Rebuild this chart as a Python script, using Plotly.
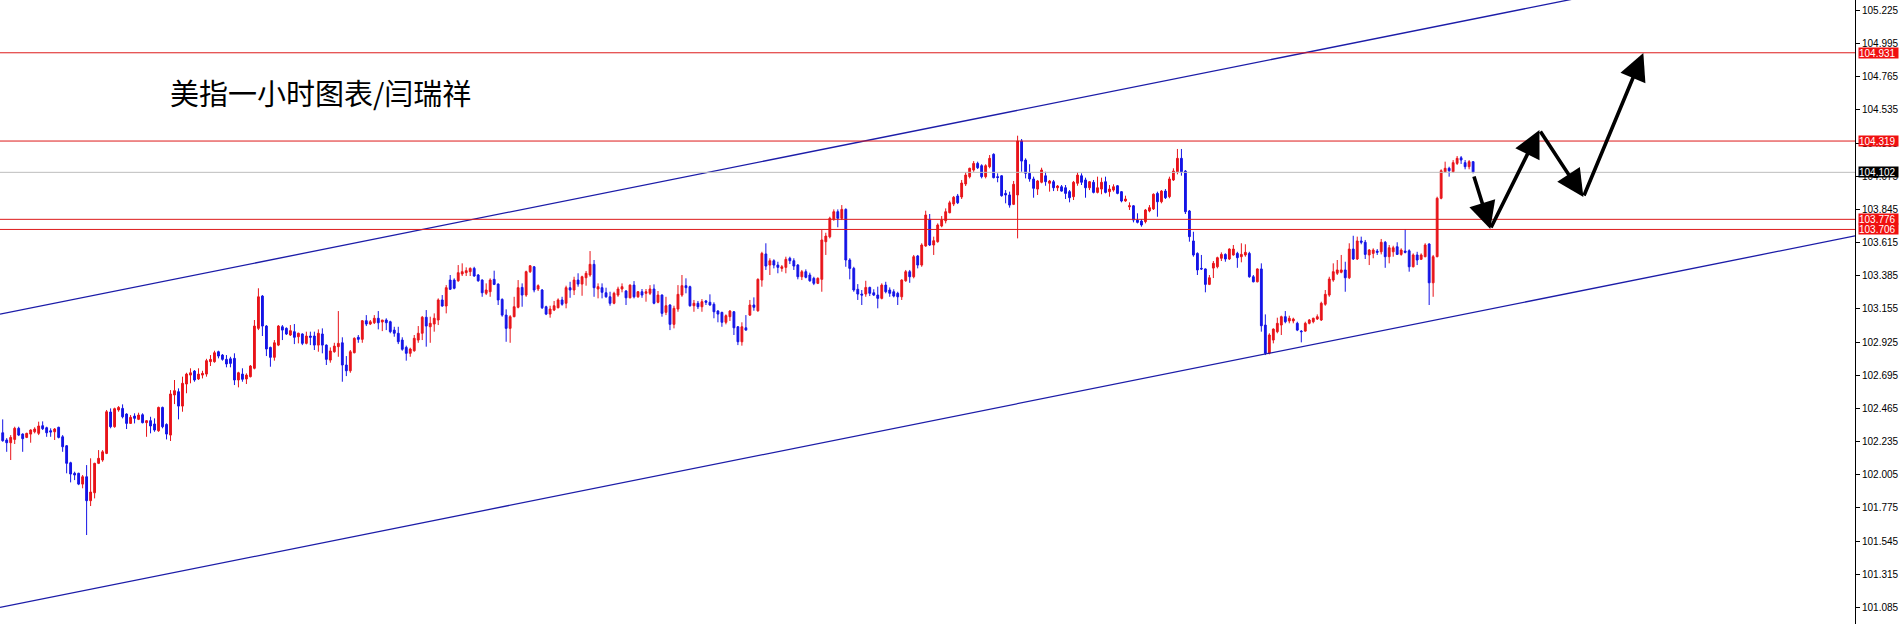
import plotly.graph_objects as go

# ---------------- data (USD index, 1h candles) ----------------
opens = [
102.296,102.246,102.227,102.250,102.327,102.287,102.264,102.287,102.303,102.292,
102.345,102.331,102.310,102.303,102.334,102.268,102.206,102.088,102.015,102.015,
101.940,101.991,101.825,101.880,102.084,102.107,102.153,102.440,102.338,102.454,
102.465,102.426,102.361,102.412,102.389,102.421,102.366,102.380,102.357,102.310,
102.472,102.354,102.280,102.558,102.581,102.481,102.634,102.696,102.724,102.669,
102.696,102.703,102.789,102.789,102.858,102.835,102.805,102.809,102.812,102.662,
102.703,102.669,102.685,102.743,103.020,103.244,103.036,102.888,102.819,102.904,
103.031,103.020,102.974,102.997,102.962,102.981,102.916,102.967,102.967,102.904,
102.981,102.904,102.800,102.858,102.893,102.920,102.766,102.726,102.851,102.958,
102.944,103.073,103.050,103.059,103.090,103.064,103.078,103.066,103.008,102.986,
102.939,102.888,102.847,102.865,102.939,102.986,103.097,103.031,103.050,103.078,
103.217,103.175,103.355,103.355,103.350,103.397,103.406,103.413,103.436,103.390,
103.355,103.263,103.274,103.360,103.327,103.221,103.112,103.020,103.101,103.166,
103.304,103.251,103.413,103.447,103.293,103.286,103.170,103.119,103.147,103.163,
103.217,103.194,103.302,103.286,103.355,103.327,103.371,103.390,103.464,103.293,
103.302,103.267,103.239,103.194,103.251,103.293,103.279,103.232,103.320,103.239,
103.274,103.263,103.263,103.293,103.201,103.251,103.131,103.182,103.048,103.154,
103.251,103.316,103.309,103.177,103.194,103.170,103.210,103.201,103.187,103.140,
103.131,103.062,103.101,103.135,103.031,102.927,103.024,103.112,103.182,103.142,
103.355,103.536,103.459,103.489,103.459,103.436,103.443,103.506,103.489,103.459,
103.378,103.413,103.390,103.367,103.332,103.360,103.621,103.655,103.776,103.829,
103.783,103.845,103.494,103.436,103.291,103.258,103.258,103.304,103.267,103.251,
103.228,103.320,103.286,103.274,103.263,103.239,103.350,103.413,103.378,103.522,
103.459,103.591,103.776,103.598,103.621,103.730,103.766,103.822,103.882,103.938,
103.931,104.021,104.072,104.118,104.164,104.148,104.072,104.141,104.227,104.072,
104.078,103.956,103.945,103.880,103.945,104.319,104.187,104.095,104.056,103.986,
104.033,104.078,104.026,104.037,103.995,104.002,103.995,103.968,103.933,104.026,
104.078,104.049,103.995,104.033,103.963,103.986,104.037,103.968,103.979,104.009,
103.968,103.903,103.863,103.870,103.771,103.764,103.760,103.834,103.848,103.956,
103.898,103.972,103.933,104.049,104.106,104.199,104.111,103.834,103.626,103.540,
103.436,103.432,103.325,103.438,103.447,103.506,103.533,103.501,103.529,103.540,
103.517,103.529,103.540,103.378,103.343,103.432,103.043,102.847,102.939,102.997,
103.043,103.101,103.071,103.071,103.055,103.001,103.001,103.055,103.066,103.085,
103.078,103.187,103.251,103.355,103.402,103.409,103.425,103.371,103.570,103.501,
103.626,103.617,103.529,103.540,103.556,103.551,103.617,103.517,103.551,103.586,
103.533,103.556,103.558,103.447,103.529,103.499,103.517,103.605,103.336,103.517,
103.922,104.106,104.130,104.106,104.164,104.203,104.169,104.141,104.176,
]

highs = [
102.389,102.259,102.280,102.338,102.338,102.292,102.296,102.320,102.334,102.373,
102.375,102.338,102.327,102.329,102.338,102.280,102.211,102.095,102.026,102.019,
102.003,102.072,102.119,102.088,102.176,102.176,102.454,102.465,102.470,102.481,
102.493,102.431,102.419,102.431,102.435,102.431,102.384,102.407,102.396,102.477,
102.477,102.361,102.592,102.662,102.604,102.685,102.712,102.743,102.731,102.743,
102.726,102.809,102.835,102.865,102.865,102.842,102.835,102.823,102.847,102.719,
102.743,102.708,102.766,103.078,103.298,103.251,103.043,102.893,102.939,103.043,
103.043,103.027,103.043,103.050,102.990,102.986,102.997,102.997,102.997,103.013,
103.020,102.909,102.888,102.920,103.140,102.958,102.828,102.870,102.958,102.974,
103.078,103.112,103.078,103.112,103.140,103.078,103.090,103.073,103.031,103.031,
102.958,102.900,102.886,102.974,103.036,103.106,103.147,103.101,103.124,103.228,
103.251,103.320,103.390,103.367,103.459,103.471,103.443,103.443,103.447,103.397,
103.360,103.332,103.367,103.420,103.332,103.228,103.152,103.112,103.239,103.355,
103.332,103.420,103.459,103.452,103.325,103.293,103.177,103.177,103.210,103.228,
103.239,103.316,103.343,103.378,103.402,103.385,103.418,103.556,103.494,103.332,
103.332,103.302,103.274,103.274,103.309,103.332,103.286,103.325,103.348,103.279,
103.293,103.293,103.320,103.325,103.279,103.256,103.239,103.187,103.177,103.320,
103.390,103.367,103.316,103.217,103.210,103.223,103.217,103.256,103.201,103.147,
103.135,103.117,103.147,103.140,103.036,103.062,103.112,103.217,103.235,103.367,
103.551,103.610,103.506,103.499,103.482,103.459,103.517,103.517,103.506,103.466,
103.425,103.429,103.406,103.378,103.374,103.702,103.683,103.794,103.845,103.845,
103.875,103.852,103.506,103.447,103.327,103.286,103.350,103.309,103.291,103.309,
103.332,103.343,103.304,103.291,103.274,103.360,103.425,103.425,103.529,103.529,
103.610,103.836,103.813,103.656,103.748,103.799,103.852,103.905,103.938,103.952,
104.049,104.104,104.134,104.180,104.176,104.158,104.158,104.222,104.234,104.095,
104.083,103.979,103.968,104.042,104.356,104.333,104.199,104.158,104.072,104.049,
104.134,104.106,104.049,104.049,104.014,104.014,104.014,103.979,104.042,104.102,
104.095,104.065,104.042,104.049,104.072,104.065,104.072,104.014,104.019,104.014,
103.972,103.940,103.894,103.875,103.818,103.778,103.848,103.875,103.956,103.968,
103.979,103.986,104.072,104.130,104.264,104.264,104.118,103.841,103.690,103.547,
103.529,103.436,103.390,103.487,103.517,103.547,103.540,103.575,103.598,103.551,
103.610,103.603,103.551,103.390,103.436,103.471,103.117,102.986,103.020,103.094,
103.108,103.140,103.108,103.094,103.066,103.008,103.066,103.085,103.094,103.117,
103.205,103.286,103.378,103.471,103.494,103.529,103.482,103.610,103.662,103.656,
103.656,103.633,103.570,103.575,103.570,103.640,103.626,103.598,103.593,103.617,
103.575,103.709,103.568,103.540,103.551,103.540,103.610,103.610,103.529,103.933,
104.123,104.176,104.141,104.187,104.215,104.215,104.187,104.187,104.176,
]

lows = [
102.234,102.164,102.107,102.218,102.273,102.164,102.259,102.227,102.292,102.280,
102.315,102.268,102.268,102.246,102.257,102.164,102.015,101.952,101.968,101.933,
101.911,101.587,101.788,101.841,102.079,102.095,102.148,102.327,102.331,102.442,
102.396,102.322,102.357,102.361,102.384,102.361,102.268,102.292,102.303,102.303,
102.327,102.250,102.239,102.495,102.389,102.442,102.570,102.639,102.650,102.662,
102.673,102.685,102.759,102.782,102.812,102.796,102.750,102.750,102.627,102.611,
102.650,102.634,102.680,102.736,103.008,102.967,102.828,102.754,102.796,102.897,
102.939,102.974,102.967,102.911,102.916,102.904,102.909,102.904,102.870,102.858,
102.847,102.766,102.782,102.851,102.823,102.650,102.689,102.712,102.847,102.920,
102.920,103.036,103.043,103.050,103.013,103.001,103.008,102.986,102.962,102.911,
102.865,102.796,102.823,102.858,102.920,102.939,102.893,102.920,102.997,103.043,
103.170,103.124,103.286,103.291,103.343,103.383,103.383,103.383,103.378,103.343,
103.239,103.251,103.239,103.320,103.182,103.101,102.927,102.920,103.097,103.159,
103.170,103.239,103.404,103.270,103.279,103.154,103.112,103.094,103.140,103.159,
103.177,103.159,103.232,103.251,103.309,103.246,103.316,103.378,103.239,103.228,
103.228,103.232,103.177,103.187,103.239,103.270,103.182,103.228,103.228,103.232,
103.232,103.205,103.251,103.187,103.194,103.101,103.112,103.008,103.020,103.135,
103.239,103.263,103.170,103.135,103.154,103.135,103.182,103.177,103.090,103.062,
103.031,103.048,103.071,102.974,102.904,102.900,103.004,103.106,103.142,103.135,
103.309,103.425,103.390,103.436,103.402,103.413,103.402,103.466,103.425,103.360,
103.355,103.367,103.343,103.320,103.327,103.274,103.529,103.644,103.766,103.721,
103.771,103.447,103.360,103.274,103.217,103.182,103.239,103.244,103.244,103.159,
103.221,103.263,103.239,103.235,103.182,103.217,103.343,103.336,103.367,103.436,
103.447,103.586,103.591,103.529,103.614,103.721,103.748,103.818,103.868,103.882,
103.917,104.007,104.060,104.106,104.125,104.060,104.060,104.130,104.060,104.033,
103.933,103.887,103.857,103.875,103.644,104.106,104.060,104.037,103.926,103.945,
104.026,104.009,103.968,103.972,103.972,103.968,103.917,103.894,103.910,104.009,
104.014,103.926,103.979,103.956,103.956,103.950,103.956,103.933,103.968,103.950,
103.894,103.898,103.841,103.755,103.748,103.725,103.748,103.825,103.841,103.794,
103.887,103.917,103.922,104.042,104.088,104.079,103.813,103.621,103.517,103.390,
103.425,103.270,103.320,103.369,103.436,103.487,103.482,103.494,103.524,103.440,
103.478,103.517,103.371,103.339,103.339,102.997,102.835,102.840,102.916,102.986,
102.974,103.055,103.055,103.055,103.001,102.923,102.997,103.048,103.055,103.078,
103.071,103.177,103.239,103.343,103.390,103.402,103.274,103.362,103.494,103.494,
103.603,103.501,103.459,103.506,103.529,103.533,103.440,103.471,103.517,103.529,
103.524,103.540,103.413,103.443,103.459,103.494,103.513,103.182,103.239,103.513,
103.915,104.099,104.072,104.099,104.153,104.160,104.123,104.123,104.095,
]

closes = [
102.241,102.227,102.264,102.327,102.280,102.255,102.292,102.315,102.322,102.343,
102.324,102.296,102.301,102.322,102.264,102.199,102.084,102.010,102.003,101.940,
101.991,101.825,101.885,102.084,102.119,102.164,102.442,102.338,102.463,102.472,
102.407,102.361,102.403,102.396,102.419,102.366,102.380,102.343,102.315,102.472,
102.338,102.287,102.565,102.588,102.481,102.639,102.703,102.712,102.662,102.703,
102.708,102.796,102.805,102.851,102.828,102.805,102.773,102.777,102.662,102.712,
102.667,102.696,102.759,103.036,103.239,103.036,102.877,102.819,102.920,103.036,
103.008,102.981,103.004,102.958,102.986,102.916,102.967,102.958,102.904,102.986,
102.904,102.805,102.863,102.897,102.916,102.766,102.726,102.858,102.951,102.944,
103.073,103.050,103.066,103.090,103.059,103.078,103.059,102.997,102.986,102.927,
102.875,102.847,102.877,102.951,102.986,103.097,103.036,103.055,103.090,103.217,
103.175,103.302,103.291,103.298,103.406,103.413,103.420,103.436,103.383,103.350,
103.267,103.286,103.355,103.325,103.217,103.112,103.020,103.101,103.170,103.302,
103.251,103.413,103.454,103.286,103.316,103.163,103.119,103.154,103.177,103.217,
103.187,103.302,103.286,103.355,103.327,103.378,103.402,103.464,103.302,103.309,
103.270,103.239,103.194,103.263,103.293,103.309,103.232,103.320,103.239,103.274,
103.251,103.274,103.293,103.194,103.251,103.124,103.177,103.048,103.159,103.256,
103.316,103.302,103.177,103.194,103.170,103.205,103.201,103.182,103.135,103.119,
103.062,103.108,103.140,103.024,102.927,103.031,103.008,103.182,103.166,103.360,
103.540,103.452,103.489,103.459,103.443,103.447,103.499,103.489,103.452,103.378,
103.413,103.374,103.350,103.332,103.367,103.633,103.660,103.783,103.829,103.783,
103.845,103.494,103.436,103.286,103.258,103.251,103.304,103.263,103.251,103.228,
103.320,103.274,103.263,103.244,103.239,103.355,103.413,103.378,103.517,103.459,
103.598,103.806,103.598,103.628,103.737,103.771,103.829,103.891,103.929,103.891,
104.028,104.083,104.130,104.164,104.134,104.072,104.148,104.199,104.065,104.066,
103.940,103.945,103.875,104.019,104.319,104.180,104.095,104.056,103.991,104.042,
104.118,104.037,104.042,103.995,104.007,103.972,103.956,103.926,104.033,104.083,
104.033,103.995,104.037,103.963,103.995,104.033,103.963,103.986,104.002,103.956,
103.903,103.917,103.870,103.771,103.755,103.737,103.841,103.857,103.950,103.898,
103.972,103.926,104.056,104.111,104.199,104.106,103.829,103.656,103.529,103.425,
103.432,103.325,103.371,103.471,103.510,103.533,103.501,103.570,103.570,103.510,
103.533,103.547,103.378,103.343,103.432,103.038,102.847,102.974,103.015,103.055,
103.101,103.066,103.090,103.085,103.008,102.997,103.055,103.078,103.090,103.101,
103.194,103.256,103.362,103.413,103.425,103.425,103.371,103.570,103.501,103.626,
103.617,103.533,103.563,103.563,103.547,103.617,103.517,103.579,103.579,103.533,
103.563,103.547,103.447,103.529,103.494,103.529,103.598,103.336,103.517,103.922,
104.113,104.130,104.113,104.169,104.199,104.187,104.141,104.176,104.102,
]

bars = list(range(len(closes)))

# price scale labels
tick_values = [101.085, 101.315, 101.545, 101.775, 102.005, 102.235, 102.465,
               102.695, 102.925, 103.155, 103.385, 103.615, 103.845, 104.075,
               104.305, 104.535, 104.765, 104.995, 105.225]
tick_labels = [f"{v:.3f}" for v in tick_values]

# horizontal levels
red_levels = [104.931, 104.319, 103.776, 103.706]
current_price = 104.102

# channel lines (two points each, bar index / price)
upper_channel_x = [-0.675, 463.575]
upper_channel_y = [103.119, 105.695]
lower_channel_x = [-0.675, 463.575]
lower_channel_y = [101.085, 103.661]

# projected path (bar index / price)
path_x = [368.1, 372.3, 384.6, 395.6, 410.6]
path_y = [104.083, 103.709, 104.395, 103.931, 104.929]

title_text = "美指一小时图表/闫瑞祥"

X_RANGE = [-0.675, 463.575]
Y_RANGE = [100.970, 105.297]

RED = "#E8141A"
BLUE = "#1414E6"
CHAN = "#1C1CA8"
LVL = "#DD1A1A"

fig = go.Figure()

fig.add_trace(go.Candlestick(
    x=bars, open=opens, high=highs, low=lows, close=closes,
    increasing=dict(line=dict(color=RED, width=1), fillcolor=RED),
    decreasing=dict(line=dict(color=BLUE, width=1), fillcolor=BLUE),
    whiskerwidth=0, showlegend=False, hoverinfo="skip",
))

fig.add_trace(go.Scatter(x=upper_channel_x, y=upper_channel_y, mode="lines",
                         line=dict(color=CHAN, width=1.3), showlegend=False, hoverinfo="skip"))
fig.add_trace(go.Scatter(x=lower_channel_x, y=lower_channel_y, mode="lines",
                         line=dict(color=CHAN, width=1.3), showlegend=False, hoverinfo="skip"))

for lv in red_levels:
    fig.add_shape(type="line", xref="paper", x0=0, x1=1, yref="y", y0=lv, y1=lv,
                  line=dict(color=LVL, width=1))
fig.add_shape(type="line", xref="paper", x0=0, x1=1, yref="y", y0=current_price, y1=current_price,
              line=dict(color="#BDBDBD", width=1))

# price boxes on the scale
for lv in red_levels:
    fig.add_annotation(xref="paper", x=1, xanchor="left", xshift=3, yref="y", y=lv,
                       yanchor="middle", text=f"{lv:.3f}", showarrow=False,
                       font=dict(family="Liberation Sans", size=10, color="white"),
                       bgcolor="#F01010", borderpad=0, width=39, height=10, align="left")
fig.add_annotation(xref="paper", x=1, xanchor="left", xshift=3, yref="y", y=current_price,
                   yanchor="middle", text=f"{current_price:.3f}", showarrow=False,
                   font=dict(family="Liberation Sans", size=10, color="white"),
                   bgcolor="black", borderpad=0, width=39, height=10, align="left")

# arrows
for i in range(len(path_x) - 1):
    fig.add_annotation(x=path_x[i + 1], y=path_y[i + 1], ax=path_x[i], ay=path_y[i],
                       xref="x", yref="y", axref="x", ayref="y", text="",
                       showarrow=True, arrowhead=2, arrowsize=1.5, arrowwidth=3.6,
                       arrowcolor="black", standoff=0, startstandoff=0)

fig.add_annotation(xref="paper", yref="paper", x=168 / 1857, y=1 - 92 / 624,
                   xanchor="left", yanchor="middle", text=title_text, showarrow=False,
                   font=dict(family="Noto Sans CJK SC", size=29, color="black"))

fig.update_layout(
    width=1899, height=624, autosize=False,
    margin=dict(l=0, r=42, t=0, b=0),
    paper_bgcolor="white", plot_bgcolor="white",
    boxgap=0.35,
    xaxis=dict(range=X_RANGE, visible=False, rangeslider=dict(visible=False),
               showgrid=False, zeroline=False),
    yaxis=dict(range=Y_RANGE, side="right", showline=True, linecolor="black", linewidth=1,
               ticks="outside", ticklen=4, tickwidth=1, tickcolor="black",
               tickvals=tick_values, ticktext=tick_labels,
               tickfont=dict(family="Liberation Sans", size=10, color="black"),
               showgrid=False, zeroline=False),
    showlegend=False,
)

fig.write_html("out.html", config={"displayModeBar": False},
               post_script="document.body.style.margin='0';document.body.style.overflow='hidden';")
